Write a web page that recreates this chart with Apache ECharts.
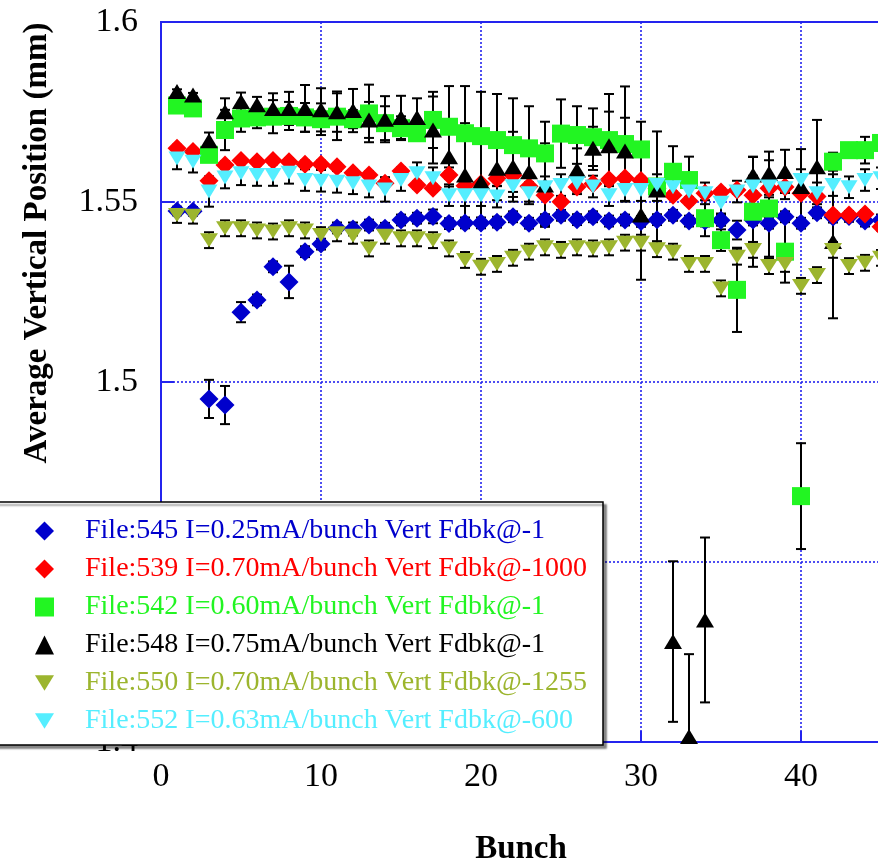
<!DOCTYPE html>
<html>
<head>
<meta charset="utf-8">
<script src="https://cdn.jsdelivr.net/npm/echarts@6/dist/echarts.min.js"></script>
<style>
  html, body { margin: 0; padding: 0; background: #fff; }
  #chart { width: 878px; height: 863px; }
</style>
</head>
<body>
<div id="chart"></div>
<script>
// Bunch numbers along the ring
const bunch = [1, 2, 3, 4, 5, 6, 7, 8, 9, 10, 11, 12, 13, 14, 15, 16, 17, 18, 19, 20,
  21, 22, 23, 24, 25, 26, 27, 28, 29, 30, 31, 32, 33, 34, 35, 36, 37, 38, 39, 40,
  41, 42, 43, 44, 45];

// Average vertical position (mm) per bunch, one array per file
const file545 = [1.5475, 1.5474, 1.4953, 1.4936, 1.5194, 1.5228, 1.5320, 1.5278, 1.5362, 1.5383,
  1.5428, 1.5425, 1.5436, 1.5427, 1.5450, 1.5455, 1.5460, 1.5440, 1.5442, 1.5442,
  1.5444, 1.5459, 1.5441, 1.5451, 1.5463, 1.5451, 1.5459, 1.5447, 1.5450, 1.5446,
  1.5451, 1.5463, 1.5447, 1.5447, 1.5449, 1.5422, 1.5450, 1.5441, 1.5459, 1.5441,
  1.5470, 1.5458, 1.5460, 1.5447, 1.5450];
const file539 = [1.5649, 1.5640, 1.5559, 1.5603, 1.5615, 1.5612, 1.5615, 1.5612, 1.5605, 1.5605,
  1.5598, 1.5581, 1.5575, 1.5552, 1.5586, 1.5547, 1.5538, 1.5575, 1.5545, 1.5551,
  1.5565, 1.5574, 1.5544, 1.5519, 1.5501, 1.5542, 1.5551, 1.5562, 1.5567, 1.5560,
  1.5538, 1.5519, 1.5503, 1.5524, 1.5528, 1.5533, 1.5519, 1.5538, 1.5542, 1.5524,
  1.5515, 1.5464, 1.5464, 1.5467, 1.5431];
const file542 = [1.5768, 1.5760, 1.5631, 1.5700, 1.5732, 1.5735, 1.5737, 1.5739, 1.5735, 1.5730,
  1.5737, 1.5730, 1.5746, 1.5719, 1.5705, 1.5691, 1.5728, 1.5709, 1.5691, 1.5683,
  1.5672, 1.5658, 1.5649, 1.5635, 1.5690, 1.5686, 1.5680, 1.5672, 1.5661, 1.5646,
  1.5543, 1.5584, 1.5561, 1.5455, 1.5394, 1.5256, 1.5473, 1.5482, 1.5362, 1.4683,
  null, 1.5612, 1.5644, 1.5644, 1.5664];
const file548 = [1.5807, 1.5797, 1.5670, 1.5751, 1.5779, 1.5770, 1.5760, 1.5760, 1.5760, 1.5756,
  1.5751, 1.5754, 1.5728, 1.5730, 1.5735, 1.5735, 1.5700, 1.5626, 1.5575, 1.5556,
  1.5594, 1.5598, 1.5584, 1.5547, null, 1.5589, 1.5649, 1.5656, 1.5642, 1.5464,
  1.5533, 1.4279, 1.4015, 1.4339, null, null, 1.5575, 1.5580, 1.5585, 1.5543,
  1.5598, 1.5390, null, null, null];
const file550 = [1.5464, 1.5462, 1.5394, 1.5427, 1.5427, 1.5421, 1.5418, 1.5427, 1.5421, 1.5408,
  1.5413, 1.5406, 1.5371, 1.5406, 1.5399, 1.5399, 1.5394, 1.5371, 1.5339, 1.5320,
  1.5328, 1.5345, 1.5362, 1.5374, 1.5367, 1.5374, 1.5371, 1.5374, 1.5387, 1.5387,
  1.5369, 1.5362, 1.5328, 1.5328, 1.5260, 1.5348, 1.5367, 1.5322, 1.5328, 1.5267,
  1.5297, 1.5367, 1.5322, 1.5331, 1.5345];
const file552 = [1.5621, 1.5612, 1.5529, 1.5568, 1.5580, 1.5575, 1.5575, 1.5581, 1.5561, 1.5559,
  1.5556, 1.5552, 1.5543, 1.5535, 1.5561, 1.5580, 1.5566, 1.5519, 1.5519, 1.5519,
  1.5515, 1.5544, 1.5524, 1.5541, 1.5547, 1.5552, 1.5543, 1.5519, 1.5533, 1.5533,
  1.5547, 1.5541, 1.5529, 1.5524, 1.5498, 1.5529, 1.5543, 1.5543, 1.5538, 1.5561,
  1.5524, 1.5547, 1.5541, 1.5561, 1.5566];

// Half-widths of the error bars (mm)
const err545 = [0.0012, 0.0012, 0.0053, 0.0053, 0.0028, 0.0015, 0.0015, 0.0045, 0.0015, 0.0015,
  0.0015, 0.0018, 0.0015, 0.0015, 0.0015, 0.0015, 0.0019, 0.0015, 0.0015, 0.0015,
  0.0015, 0.0015, 0.0015, 0.0015, 0.0015, 0.0015, 0.0015, 0.0015, 0.0015, 0.0015,
  0.0015, 0.0015, 0.0015, 0.0015, 0.0015, 0.0026, 0.0015, 0.0015, 0.0015, 0.0015,
  0.0015, 0.0015, 0.0015, 0.0015, 0.0015];
const err539 = [0.001, 0.001, 0.001, 0.001, 0.001, 0.001, 0.001, 0.001, 0.001, 0.001,
  0.001, 0.001, 0.001, 0.001, 0.001, 0.001, 0.001, 0.001, 0.001, 0.001,
  0.001, 0.001, 0.001, 0.001, 0.001, 0.001, 0.001, 0.001, 0.001, 0.001,
  0.001, 0.001, 0.001, 0.001, 0.001, 0.001, 0.001, 0.001, 0.001, 0.001,
  0.001, 0.001, 0.001, 0.001, 0.001];
const err542 = [0.0008, 0.0008, 0.0012, 0.0056, 0.0037, 0.0030, 0.0046, 0.0039, 0.0040, 0.0044,
  0.0065, 0.0025, 0.0080, 0.0047, 0.0033, 0.0020, 0.0078, 0.0113, 0.0131, 0.0123,
  0.0128, 0.0130, 0.0117, 0.0088, 0.0095, 0.0080, 0.0080, 0.0128, 0.0160, 0.0077,
  0.0153, 0.0071, 0.0065, 0.0050, 0.0030, 0.0117, 0.0153, 0.0134, 0.0086, 0.0147,
  null, 0.0025, 0.0020, 0.0037, 0.0020];
const err548 = [0.0006, 0.0006, 0.0023, 0.0037, 0.0025, 0.0022, 0.0042, 0.0046, 0.0065, 0.0060,
  0.0056, 0.0060, 0.0050, 0.0064, 0.0060, 0.0053, 0.0093, 0.0083, 0.0144, 0.0125,
  0.0089, 0.0097, 0.0083, 0.0116, null, 0.0060, 0.0060, 0.0095, 0.0092, 0.0180,
  0.0030, 0.0223, 0.0229, 0.0229, null, null, 0.0050, 0.0060, 0.0060, 0.0104,
  0.0130, 0.0213, null, null, null];
const err550 = [0.0022, 0.0022, 0.0022, 0.0022, 0.0022, 0.0022, 0.0022, 0.0022, 0.0022, 0.0022,
  0.0022, 0.0022, 0.0022, 0.0022, 0.0022, 0.0022, 0.0022, 0.0022, 0.0022, 0.0022,
  0.0022, 0.0022, 0.0022, 0.0022, 0.0022, 0.0022, 0.0022, 0.0022, 0.0022, 0.0022,
  0.0022, 0.0022, 0.0022, 0.0022, 0.0022, 0.0022, 0.0022, 0.0022, 0.0022, 0.0022,
  0.0022, 0.0022, 0.0022, 0.0022, 0.0022];
const err552 = [0.0030, 0.0030, 0.0042, 0.0030, 0.0033, 0.0030, 0.0030, 0.0030, 0.0030, 0.0030,
  0.0030, 0.0030, 0.0030, 0.0034, 0.0030, 0.0030, 0.0030, 0.0030, 0.0030, 0.0030,
  0.0030, 0.0030, 0.0030, 0.0030, 0.0030, 0.0030, 0.0030, 0.0030, 0.0030, 0.0030,
  0.0030, 0.0030, 0.0030, 0.0030, 0.0030, 0.0030, 0.0030, 0.0030, 0.0030, 0.0030,
  0.0030, 0.0030, 0.0030, 0.0030, 0.0030];

// Legend labels
const labels = [
  'File:545 I=0.25mA/bunch Vert Fdbk@-1',
  'File:539 I=0.70mA/bunch Vert Fdbk@-1000',
  'File:542 I=0.60mA/bunch Vert Fdbk@-1',
  'File:548 I=0.75mA/bunch Vert Fdbk@-1',
  'File:550 I=0.70mA/bunch Vert Fdbk@-1255',
  'File:552 I=0.63mA/bunch Vert Fdbk@-600'
];

// Axis ticks
const xTicks = { min: 0, max: 50, step: 10 };
const yTicks = { min: 1.4, max: 1.6, step: 0.05 };

const SERIF = '"Liberation Serif", "Times New Roman", serif';
const BLUE_AXIS = '#2424ee';
const DOWN_TRI = 'path://M0,0L16,0L8,13Z';

const files = [
  { vals: file545, err: err545, color: '#0000cc', symbol: 'diamond', size: [19, 19] },
  { vals: file539, err: err539, color: '#ff0000', symbol: 'diamond', size: [19, 19] },
  { vals: file542, err: err542, color: '#22f522', symbol: 'rect', size: [18, 18] },
  { vals: file548, err: err548, color: '#000000', symbol: 'triangle', size: [18, 15] },
  { vals: file550, err: err550, color: '#9cb52e', symbol: DOWN_TRI, size: [18, 14] },
  { vals: file552, err: err552, color: '#55eeff', symbol: DOWN_TRI, size: [17, 14] }
];

function errorBar(params, api) {
  const x = api.value(0);
  const lo = api.coord([x, api.value(1)]);
  const hi = api.coord([x, api.value(2)]);
  const cs = params.coordSys;
  const yTop = cs.y, yBot = cs.y + cs.height;
  const style = { stroke: '#000', lineWidth: 2 };
  const half = 5;
  const kids = [{
    type: 'line',
    shape: { x1: hi[0], y1: Math.max(hi[1], yTop), x2: lo[0], y2: Math.min(lo[1], yBot) },
    style: style
  }];
  if (hi[1] >= yTop) kids.push({ type: 'line', shape: { x1: hi[0] - half, y1: hi[1], x2: hi[0] + half, y2: hi[1] }, style: style });
  if (lo[1] <= yBot) kids.push({ type: 'line', shape: { x1: lo[0] - half, y1: lo[1], x2: lo[0] + half, y2: lo[1] }, style: style });
  return { type: 'group', children: kids };
}

const series = [];
files.forEach((f, k) => {
  const bars = [];
  const pts = [];
  bunch.forEach((b, i) => {
    const v = f.vals[i];
    if (v == null) return;
    pts.push([b, v]);
    if (f.err[i] != null) bars.push([b, v - f.err[i], v + f.err[i]]);
  });
  series.push({
    type: 'custom',
    name: labels[k] + ' err',
    renderItem: errorBar,
    data: bars,
    encode: { x: 0, y: [1, 2] },
    silent: true,
    z: 2
  });
  series.push({
    type: 'scatter',
    name: labels[k],
    data: pts,
    symbol: f.symbol,
    symbolSize: f.size,
    itemStyle: { color: f.color, opacity: 1 },
    silent: true,
    z: 2
  });
});

const chart = echarts.init(document.getElementById('chart'), null, { renderer: 'canvas' });
chart.setOption({
  animation: false,
  backgroundColor: '#fff',
  grid: {
    left: 161, top: 22, width: 800, height: 720,
    outerBoundsMode: 'none', containLabel: false,
    show: true, borderColor: BLUE_AXIS, borderWidth: 2, backgroundColor: 'transparent'
  },
  xAxis: {
    type: 'value', min: xTicks.min, max: xTicks.max, interval: xTicks.step,
    axisLine: { show: true, onZero: false, lineStyle: { color: BLUE_AXIS, width: 2 } },
    axisTick: { show: true, inside: true, length: 11, lineStyle: { color: BLUE_AXIS, width: 2 } },
    axisLabel: { color: '#000', fontFamily: SERIF, fontSize: 34, margin: 18 },
    splitLine: { show: true, lineStyle: { color: BLUE_AXIS, width: 1.6, type: [2, 2] } }
  },
  yAxis: {
    type: 'value', min: yTicks.min, max: yTicks.max, interval: yTicks.step,
    axisLine: { show: true, lineStyle: { color: BLUE_AXIS, width: 2 } },
    axisTick: { show: true, inside: true, length: 13, lineStyle: { color: BLUE_AXIS, width: 2 } },
    axisLabel: { color: '#000', fontFamily: SERIF, fontSize: 34, margin: 23 },
    splitLine: { show: true, lineStyle: { color: BLUE_AXIS, width: 1.6, type: [2, 2] } }
  },
  legend: {
    orient: 'vertical', left: 35, top: 516, padding: 0, itemGap: 8,
    itemWidth: 19, itemHeight: 19, selectedMode: false, z: 60,
    data: labels.map((name, k) => ({
      name: name,
      icon: files[k].symbol,
      textStyle: { color: files[k].color }
    })),
    textStyle: { fontFamily: SERIF, fontSize: 28, lineHeight: 30, padding: [0, 0, 0, 26] }
  },
  graphic: [
    {
      type: 'rect', z: 50,
      shape: { x: -6, y: 502, width: 609, height: 243 },
      style: {
        fill: '#fff', stroke: '#000', lineWidth: 1.5,
        shadowColor: 'rgba(0,0,0,0.45)', shadowOffsetX: 3, shadowOffsetY: 3, shadowBlur: 2
      }
    },
    {
      type: 'text', z: 60, x: 37, y: 243, rotation: Math.PI / 2,
      style: {
        text: 'Average Vertical Position (mm)', fill: '#000',
        font: 'bold 33px ' + SERIF,
        textAlign: 'center', textVerticalAlign: 'middle', align: 'center', verticalAlign: 'middle'
      }
    },
    {
      type: 'text', z: 60, x: 521, y: 849,
      style: {
        text: 'Bunch', fill: '#000',
        font: 'bold 33px ' + SERIF,
        textAlign: 'center', textVerticalAlign: 'middle', align: 'center', verticalAlign: 'middle'
      }
    }
  ],
  series: series
});
</script>
</body>
</html>
